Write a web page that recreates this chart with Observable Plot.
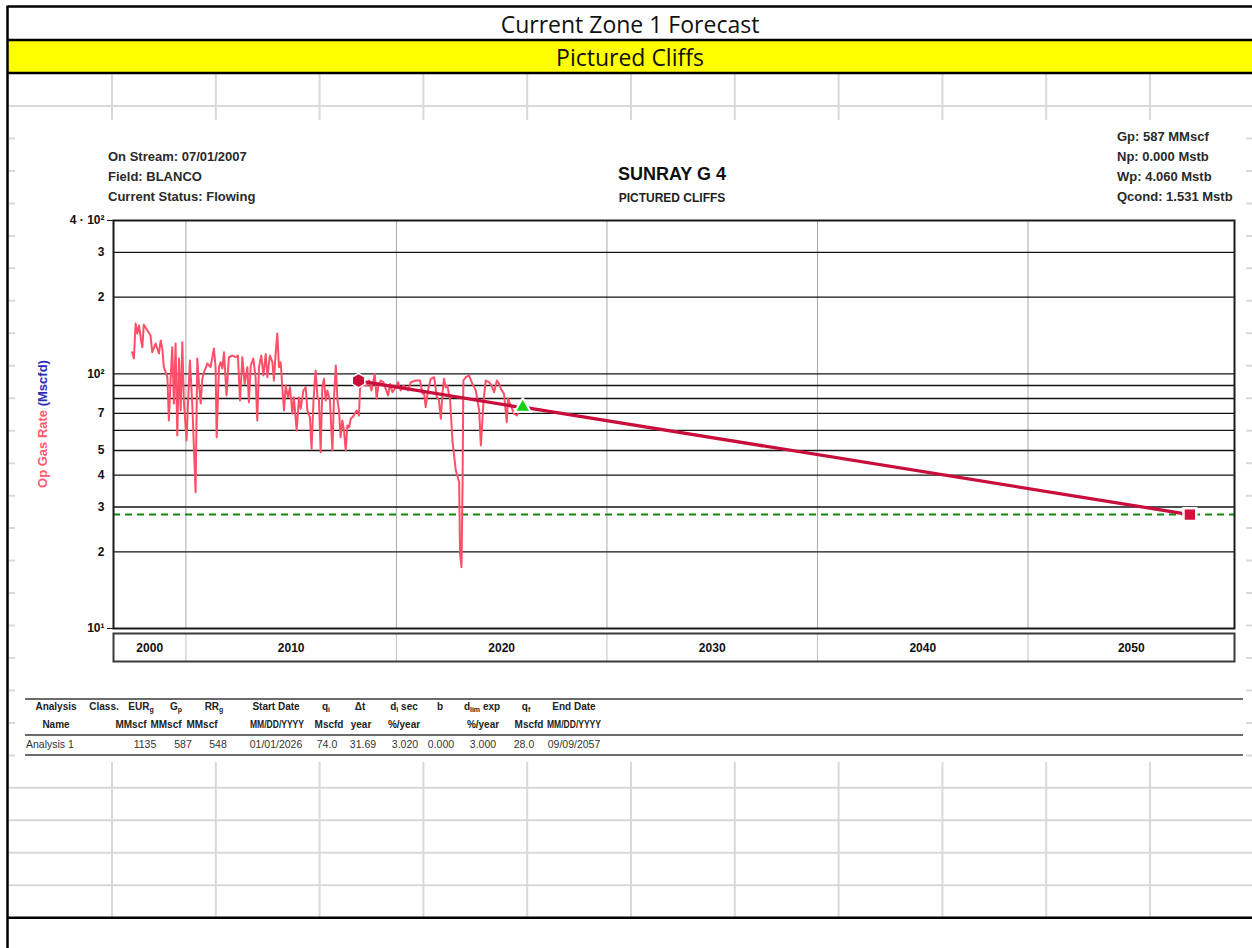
<!DOCTYPE html>
<html>
<head>
<meta charset="utf-8">
<script src="https://cdn.jsdelivr.net/npm/d3@7"></script>
<script src="https://cdn.jsdelivr.net/npm/@observablehq/plot@0.6"></script>
<style>
html,body{margin:0;padding:0;background:#fff;}
body{width:1252px;height:948px;overflow:hidden;position:relative;font-family:"Liberation Sans",Arial,sans-serif;color:#222;}
.a{position:absolute;white-space:nowrap;}
.t{font-family:"Open Sans",sans-serif;font-size:23px;color:#111;text-align:center;left:8px;width:1244px;line-height:32px;}
.info{font-weight:bold;font-size:13px;line-height:16px;color:#2a2a2a;}
.th{font-weight:bold;font-size:10px;line-height:14px;color:#222;}
.td{font-size:10.5px;line-height:14px;color:#333;}
sub{font-size:7px;vertical-align:-2px;line-height:0;}
</style>
</head>
<body>
<svg id="bg" class="a" style="left:0;top:0" width="1252" height="948"></svg>
<div id="main" class="a" style="left:15px;top:120px"></div>
<div id="band" class="a" style="left:15px;top:631px"></div>
<div id="ann"></div>
<script>
// ================= DATA =================
const sheetTitle = "Current Zone 1 Forecast";
const sheetSubtitle = "Pictured Cliffs";
const wellName = "SUNRAY G 4";
const formation = "PICTURED CLIFFS";
const leftInfo = ["On Stream: 07/01/2007", "Field: BLANCO", "Current Status: Flowing"];
const rightInfo = ["Gp: 587 MMscf", "Np: 0.000 Mstb", "Wp: 4.060 Mstb", "Qcond: 1.531 Mstb"];
const yLabelParts = ["Op Gas Rate ", "(Mscfd)"];

// historical gas rate (decimal year, Mscfd)
const histYear = [2007.45,2007.53,2007.61,2007.69,2007.77,2007.85,2007.93,2008.00,2008.17,2008.32,
2008.40,2008.56,2008.72,2008.80,2008.88,2008.95,2009.12,2009.19,2009.27,2009.35,
2009.43,2009.51,2009.59,2009.67,2009.75,2009.83,2009.90,2010.03,2010.10,2010.19,
2010.30,2010.46,2010.54,2010.62,2010.70,2010.78,2010.86,2011.02,2011.17,2011.33,
2011.41,2011.46,2011.57,2011.65,2011.73,2011.81,2011.93,2012.04,2012.21,2012.36,
2012.47,2012.57,2012.68,2012.79,2012.92,2012.99,2013.08,2013.20,2013.31,2013.39,
2013.47,2013.58,2013.68,2013.79,2013.87,2013.99,2014.11,2014.18,2014.26,2014.34,
2014.42,2014.50,2014.58,2014.66,2014.74,2014.85,2014.94,2015.06,2015.13,2015.26,
2015.37,2015.45,2015.58,2015.69,2015.77,2015.89,2015.97,2016.06,2016.16,2016.25,
2016.32,2016.40,2016.48,2016.56,2016.64,2016.72,2016.84,2016.96,2017.03,2017.12,
2017.20,2017.27,2017.35,2017.43,2017.51,2017.59,2017.67,2017.75,2017.83,2017.98,
2018.11,2018.22,2018.27,2018.38,2018.54,2018.62,2018.70,2018.81,2018.91,2018.97,
2019.06,2019.14,2019.25,2019.38,2019.49,2019.60,2019.70,2019.81,2019.97,2020.08,
2020.20,2020.33,2020.44,2020.55,2020.68,2020.92,2021.12,2021.24,2021.31,2021.39,
2021.50,2021.63,2021.79,2021.92,2022.02,2022.11,2022.19,2022.26,2022.34,2022.42,
2022.55,2022.66,2022.82,2022.98,2023.02,2023.09,2023.14,2023.18,2023.29,2023.45,
2023.61,2023.77,2023.93,2024.01,2024.14,2024.24,2024.40,2024.52,2024.64,2024.77,
2024.88,2024.96,2025.11,2025.24,2025.30,2025.43,2025.59,2025.72,2025.78];
const histRate = [121.6,114.8,157.6,143.9,154.8,139.2,127.2,156.0,147.9,141.4,
121.6,131.5,120.2,135.1,125.7,106.2,97.0,65.6,94.1,127.2,
76.5,131.5,57.3,114.8,71.8,133.1,78.6,54.7,76.5,112.8,
76.5,34.3,114.8,91.3,76.5,95.6,101.5,109.8,106.2,125.7,
106.2,56.4,106.2,111.1,104.9,121.6,82.2,116.2,118.0,116.2,
118.0,78.6,116.2,91.3,106.2,77.4,107.8,114.8,97.0,65.6,
106.2,118.0,98.5,119.5,97.0,118.0,111.1,94.1,119.5,143.9,
106.2,111.1,88.6,71.8,89.9,80.9,88.6,69.7,80.9,59.9,
80.9,72.9,86.0,88.6,71.8,67.5,50.8,78.6,103.0,80.9,
78.6,49.2,88.6,95.6,78.6,86.0,78.6,50.0,78.6,107.8,
78.6,71.8,56.4,65.6,59.9,50.0,62.7,61.7,66.6,68.6,
71.8,68.6,87.3,92.7,89.9,89.9,94.1,86.0,94.1,100.0,
79.8,89.9,94.1,92.7,87.3,82.2,91.3,84.7,88.6,92.7,
86.0,89.9,88.6,86.0,92.7,94.1,94.1,83.5,84.7,74.0,
86.0,95.6,97.0,80.9,78.6,66.6,84.7,95.6,88.6,89.9,
78.6,54.7,41.7,37.5,19.7,17.4,35.9,94.1,97.0,98.5,
91.3,86.0,71.8,52.3,78.6,94.1,92.7,89.9,84.7,94.1,
91.3,87.3,83.5,64.6,79.8,75.1,69.7,68.6,69.7];

// decline fit over history, and forecast
const fitYear = [2018.58, 2025.66];
const fitRate = [92.7, 74.4];
const fcYear = [2026.0, 2057.69];
const fcRate = [74.0, 28.0];
// markers: fit start, forecast start, forecast end
const markerYear = [2018.2, 2026.0, 2057.69];
const markerRate = [94.1, 74.0, 28.0];
const econLimitRate = 28.0;

// axes
const xDomain = [2006.56, 2059.81];
const yDomain = [10, 400];
const yTickValues = [10, 20, 30, 40, 50, 70, 100, 200, 300, 400];
const yTickLabels = ["10¹", "2", "3", "4", "5", "7", "10²", "2", "3", "4 · 10²"];
const yGridValues = [20, 30, 40, 50, 60, 70, 80, 90, 100, 200, 300];
const decadeLines = [2010, 2020, 2030, 2040, 2050];
const decadeLabels = ["2000", "2010", "2020", "2030", "2040", "2050"];

// analysis table
const tableHead1 = ["Analysis", "Class.", "EUR<sub>g</sub>", "G<sub>p</sub>", "RR<sub>g</sub>", "Start Date", "q<sub>i</sub>", "Δt", "d<sub>i</sub> sec", "b", "d<sub>lim</sub> exp", "q<sub>f</sub>", "End Date"];
const tableHead1X = [56, 104, 141, 176, 214, 276, 326, 360, 404, 440, 482, 526, 574];
const tableHead2 = ["Name", "MMscf", "MMscf", "MMscf", "MM/DD/YYYY", "Mscfd", "year", "%/year", "%/year", "Mscfd", "MM/DD/YYYY"];
const tableHead2X = [56, 131, 166, 202, 277, 329, 361, 404, 483, 529, 574];
const tableRowName = "Analysis 1";
const tableRow = ["1135", "587", "548", "01/01/2026", "74.0", "31.69", "3.020", "0.000", "3.000", "28.0", "09/09/2057"];
const tableRowX = [145, 183, 218, 276, 327, 363, 405, 441, 483, 524, 574];

// ================= BACKGROUND (spreadsheet) =================
const bg = d3.select("#bg");
const colX = d3.range(11).map(i => 112 + i * 103.8);
const rowY = d3.range(25).map(i => 106 + i * 32.47);
bg.append("rect").attr("x", 8).attr("y", 41).attr("width", 1250).attr("height", 32).attr("fill", "#ffff00");
bg.selectAll("line.v").data(colX).join("line").attr("x1", d => d).attr("x2", d => d).attr("y1", 74).attr("y2", 917)
  .attr("stroke", "#d9d9d9").attr("stroke-width", 2);
bg.selectAll("line.h").data(rowY).join("line").attr("x1", 8).attr("x2", 1252).attr("y1", d => d).attr("y2", d => d)
  .attr("stroke", "#d9d9d9").attr("stroke-width", 2);
bg.append("rect").attr("x", 15).attr("y", 120).attr("width", 1231).attr("height", 642).attr("fill", "#fff");
[[8, 6.5, 1260, 6.5], [8, 40, 1260, 40], [8, 73, 1260, 73], [8, 917.7, 1260, 917.7], [7.5, 5.5, 7.5, 948]].forEach(([x1, y1, x2, y2]) =>
  bg.append("line").attr("x1", x1).attr("y1", y1).attr("x2", x2).attr("y2", y2).attr("stroke", "#000").attr("stroke-width", 2.5));
[699, 735, 755].forEach(y => bg.append("line").attr("x1", 25).attr("x2", 1243).attr("y1", y).attr("y2", y).attr("stroke", "#3a3a3a").attr("stroke-width", 1.5));

// ================= TEXT =================
const ann = document.getElementById("ann");
function addDiv(cls, html, left, top, extra) {
  const d = document.createElement("div");
  d.className = "a " + cls;
  d.innerHTML = html;
  d.style.left = left + "px";
  d.style.top = top + "px";
  if (extra) Object.assign(d.style, extra);
  ann.appendChild(d);
  return d;
}
// centred table cell; long date masks are squeezed to the reference width
function addCell(cls, html, cx, top) {
  const d = addDiv(cls, html, cx, top);
  const w = d.getBoundingClientRect().width;
  const maxW = html.startsWith("MM/") ? 54 : 999;
  const s = Math.min(1, maxW / w);
  d.style.transformOrigin = "0 0";
  d.style.left = (cx - w * s / 2) + "px";
  d.style.transform = "scaleX(" + s + ")";
  return d;
}
addDiv("t", sheetTitle, 8, 8);
addDiv("t", sheetSubtitle, 8, 41);
leftInfo.forEach((s, i) => addDiv("info", s, 108, 149 + i * 20));
rightInfo.forEach((s, i) => addDiv("info", s, 1117, 129 + i * 20));
addDiv("", wellName, 672, 163, {transform: "translateX(-50%)", fontWeight: "bold", fontSize: "18px", lineHeight: "22px", color: "#111"});
addDiv("", formation, 672, 190, {transform: "translateX(-50%)", fontWeight: "bold", fontSize: "12px", lineHeight: "16px", color: "#222"});
tableHead1.forEach((s, i) => addCell("th", s, tableHead1X[i], 700));
tableHead2.forEach((s, i) => addCell("th", s, tableHead2X[i], 718));
addDiv("td", tableRowName, 26, 737);
tableRow.forEach((s, i) => addCell("td", s, tableRowX[i], 737));

// ================= CHART =================
const hist = histYear.map((x, i) => ({x, y: histRate[i]}));
const fit = fitYear.map((x, i) => ({x, y: fitRate[i]}));
const fc = fcYear.map((x, i) => ({x, y: fcRate[i]}));
const markers = markerYear.map((x, i) => ({x, y: markerRate[i]}));
const tickLabel = new Map(yTickValues.map((v, i) => [v, yTickLabels[i]]));
const FONT = '"Liberation Sans", Arial, sans-serif';
const RED = "#c80f3c";

const main = Plot.plot({
  width: 1231, height: 512,
  marginLeft: 98, marginRight: 12, marginTop: 100, marginBottom: 4,
  x: {domain: xDomain, axis: null},
  y: {type: "log", domain: yDomain, label: null},
  style: {fontFamily: FONT, fontSize: "12px", fontWeight: "bold", color: "#111", background: "transparent", overflow: "visible"},
  marks: [
    Plot.ruleX(decadeLines, {stroke: "#a9a9a9", strokeWidth: 1}),
    Plot.ruleY(yGridValues, {stroke: "#141414", strokeWidth: 1.3}),
    Plot.ruleY([econLimitRate], {stroke: "#0b8a0b", strokeWidth: 2, strokeDasharray: "7,5"}),
    Plot.line(hist, {x: "x", y: "y", stroke: "#ff4f68", strokeWidth: 2}),
    Plot.line(fit, {x: "x", y: "y", stroke: RED, strokeWidth: 3.3}),
    Plot.line(fc, {x: "x", y: "y", stroke: RED, strokeWidth: 3.3}),
    Plot.dot([markers[0]], {x: "x", y: "y", symbol: "hexagon", r: 5.5, fill: RED, stroke: "white", strokeWidth: 3, paintOrder: "stroke"}),
    Plot.dot([markers[1]], {x: "x", y: "y", symbol: "triangle", r: 4.6, fill: "#12d212", stroke: "white", strokeWidth: 4, paintOrder: "stroke"}),
    Plot.dot([markers[2]], {x: "x", y: "y", symbol: "square", r: 5.8, fill: "#d4103e", stroke: "white", strokeWidth: 5, paintOrder: "stroke"}),
    Plot.frame({stroke: "#1a1a1a", strokeWidth: 2}),
    Plot.axisY({ticks: yTickValues, tickSize: 0, tickPadding: 9, label: null, fontSize: 12, fontWeight: "bold", tickFormat: d => tickLabel.get(d)}),
    Plot.axisY({ticks: [10, 400], tickSize: 6, label: null, tickFormat: () => ""})
  ]
});
document.getElementById("main").appendChild(main);
const msvg = d3.select(main.tagName.toLowerCase() === "svg" ? main : main.querySelector("svg"));
const yl = msvg.append("text")
  .attr("transform", "translate(27,304) rotate(-90)")
  .attr("text-anchor", "middle").attr("dy", "0.35em")
  .style("font-size", "13px").style("font-weight", "bold").style("font-family", FONT);
yl.append("tspan").attr("fill", "#ff5a6e").text(yLabelParts[0]);
yl.append("tspan").attr("fill", "#2b2bb8").text(yLabelParts[1]);

const decadeMid = decadeLabels.map(lab => {
  const a = Math.max(xDomain[0], +lab), b = Math.min(xDomain[1], +lab + 10);
  return {x: (a + b) / 2, label: lab};
});
const band = Plot.plot({
  width: 1231, height: 32,
  marginLeft: 98, marginRight: 12, marginTop: 2, marginBottom: 2,
  x: {domain: xDomain, axis: null},
  style: {fontFamily: FONT, background: "transparent", overflow: "visible"},
  marks: [
    Plot.ruleX(decadeLines, {stroke: "#c4c4c4", strokeWidth: 1}),
    Plot.text(decadeMid, {x: "x", text: "label", frameAnchor: "middle", dy: 1, fontSize: 12, fontWeight: "bold", fill: "#111"}),
    Plot.frame({stroke: "#3a3a3a", strokeWidth: 2})
  ]
});
document.getElementById("band").appendChild(band);
</script>
</body>
</html>
